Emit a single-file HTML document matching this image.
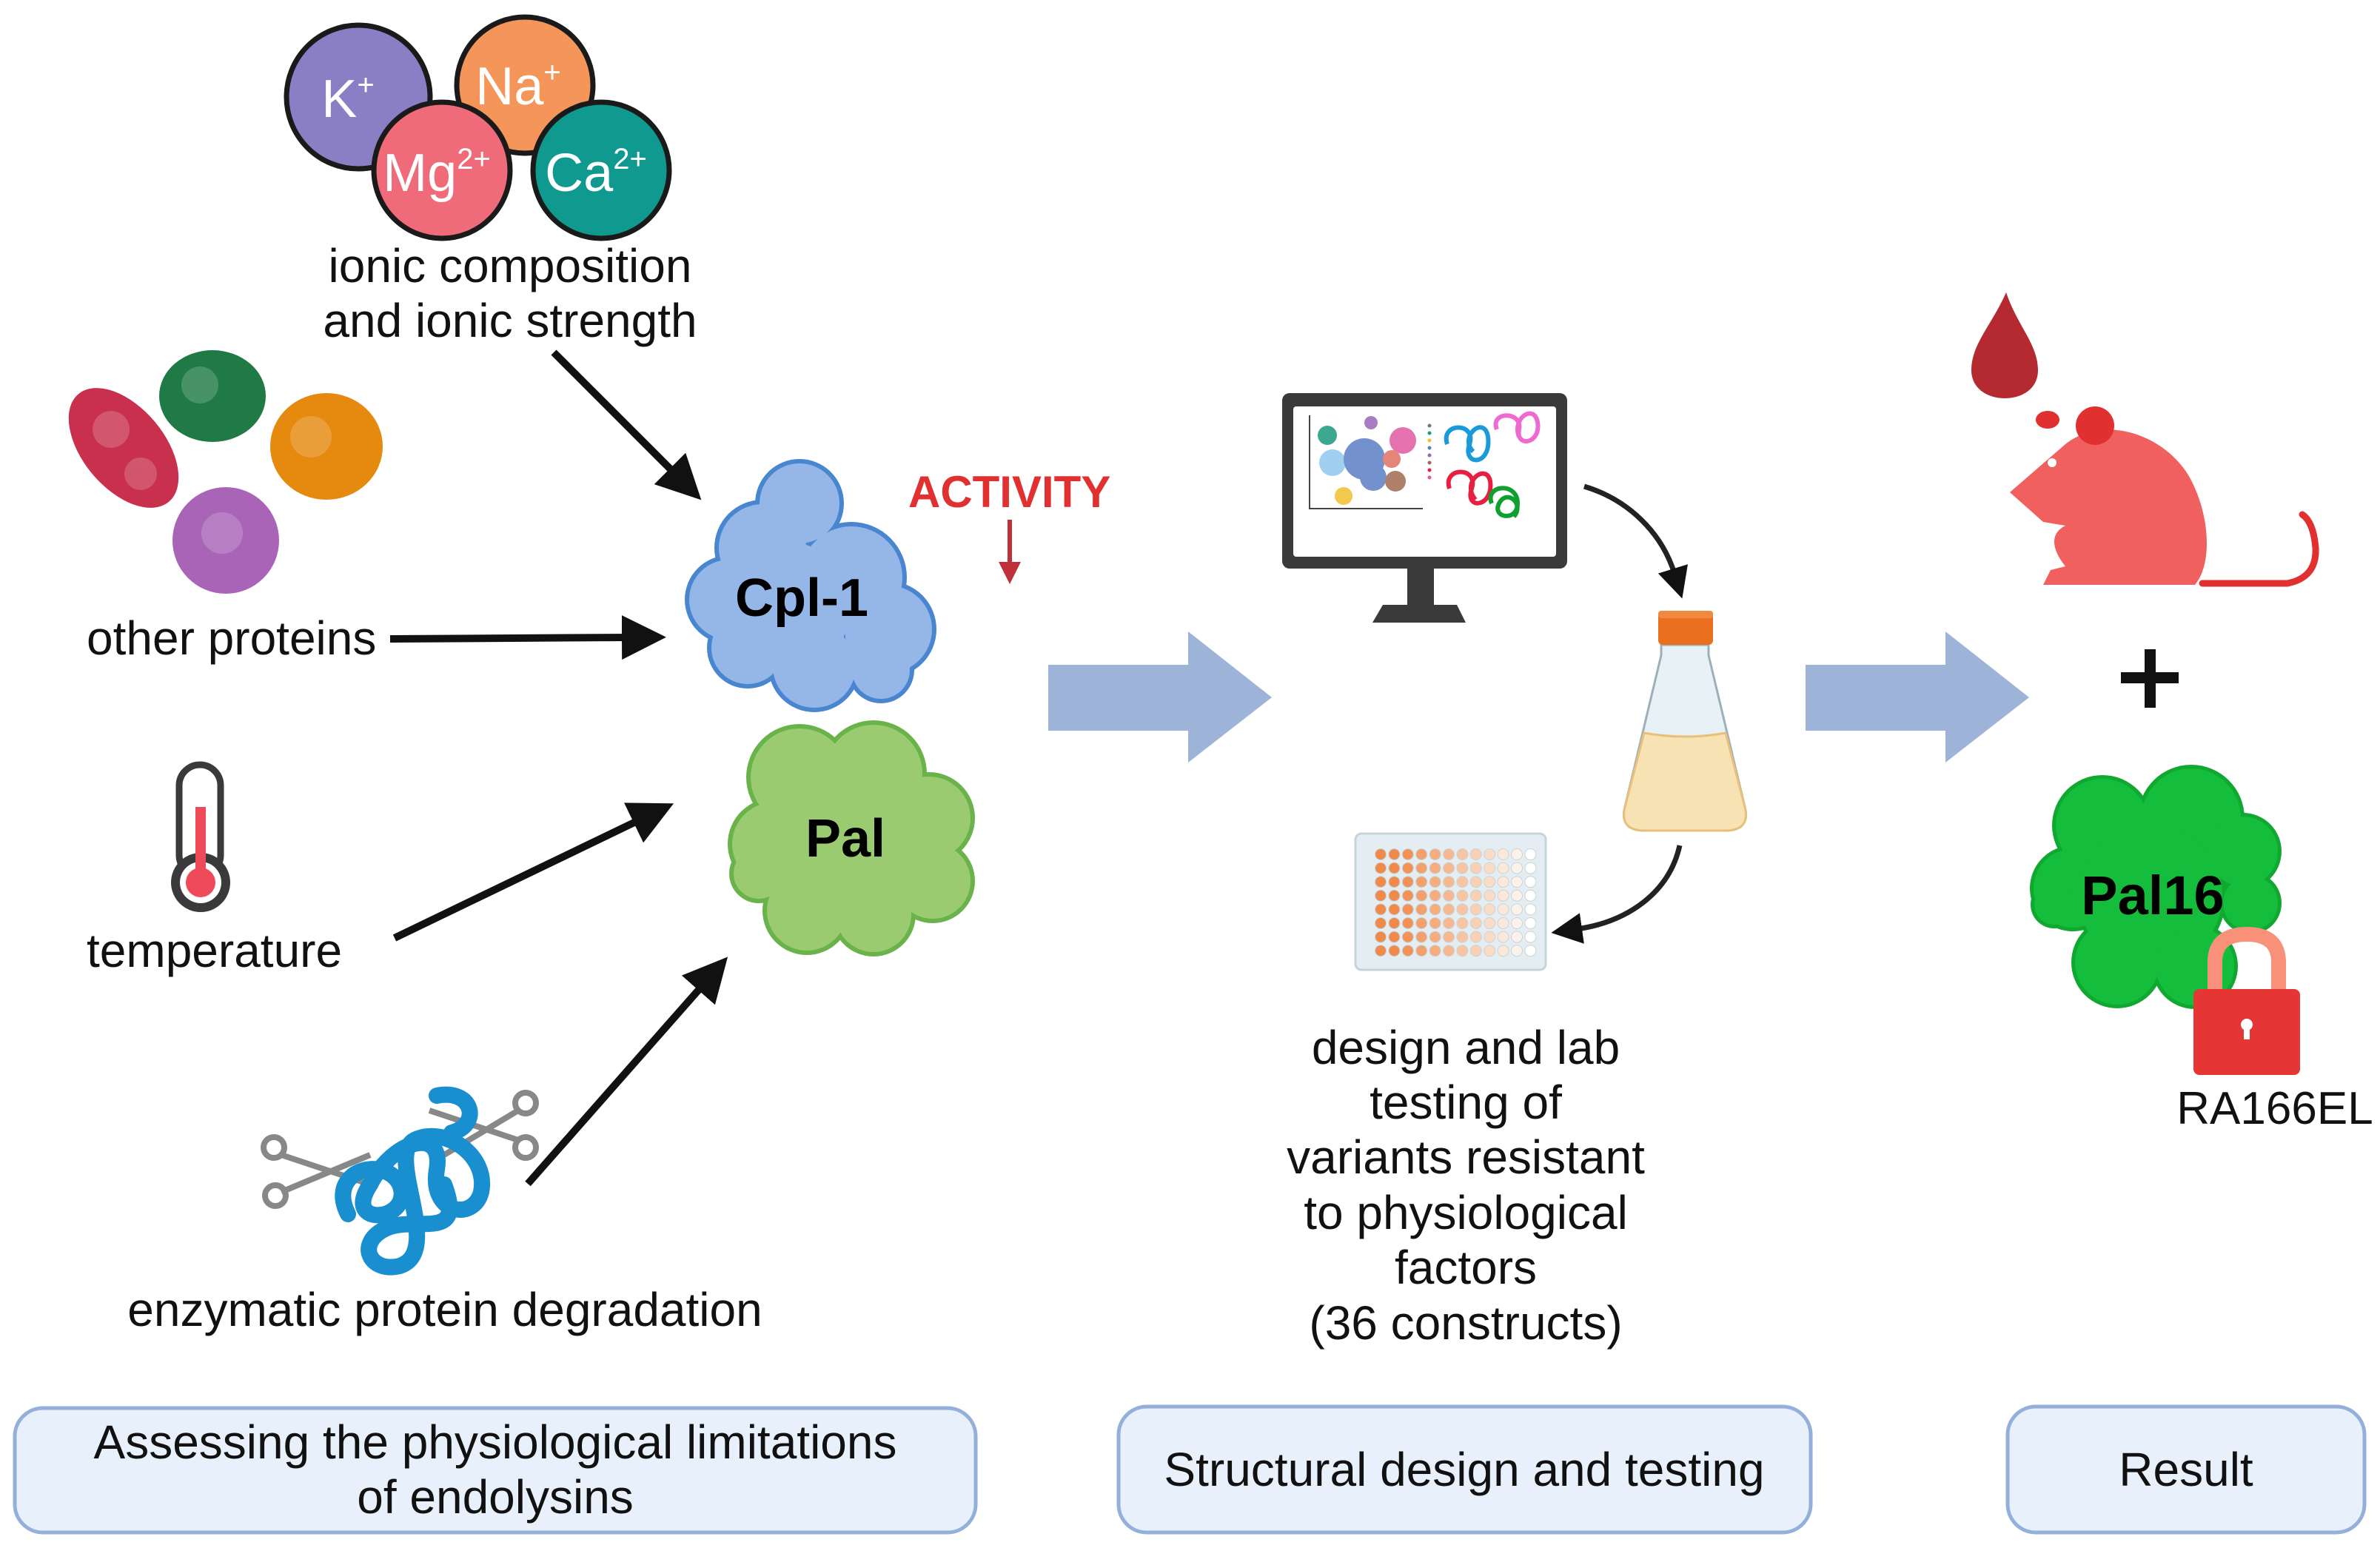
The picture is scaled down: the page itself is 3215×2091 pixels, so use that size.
<!DOCTYPE html>
<html><head><meta charset="utf-8"><style>
html,body{margin:0;padding:0;background:#fff}
svg{display:block}
text{font-family:"Liberation Sans",Arial,sans-serif}
</style></head><body>
<svg width="3215" height="2091" viewBox="0 0 3215 2091" xmlns="http://www.w3.org/2000/svg">
<defs>
<marker id="ah" markerWidth="6" markerHeight="6" refX="1" refY="3" orient="auto" markerUnits="strokeWidth">
<path d="M0,0 L6,3 L0,6 Z" fill="#111"/></marker>
<marker id="ahr" markerWidth="5" markerHeight="5" refX="1" refY="2.5" orient="auto" markerUnits="strokeWidth">
<path d="M0,0 L5,2.5 L0,5 Z" fill="#c0303a"/></marker>
</defs>
<rect width="3215" height="2091" fill="#fff"/>

<!-- ions -->
<g stroke="#1a1a1a" stroke-width="7">
<circle cx="484" cy="131" r="97" fill="#8a7fc4"/>
<circle cx="709" cy="115" r="92" fill="#f4955a"/>
<circle cx="597" cy="230" r="92" fill="#f06b7a"/>
<circle cx="812" cy="230" r="92" fill="#10998f"/>
</g>
<g fill="#fff" font-size="72" text-anchor="middle">
<text x="470" y="158">K<tspan font-size="40" dy="-30">+</tspan></text>
<text x="700" y="141">Na<tspan font-size="40" dy="-30">+</tspan></text>
<text x="590" y="258">Mg<tspan font-size="40" dy="-30">2+</tspan></text>
<text x="805" y="258">Ca<tspan font-size="40" dy="-30">2+</tspan></text>
</g>
<g font-size="64" fill="#111" text-anchor="middle">
<text x="689" y="381">ionic composition</text>
<text x="689" y="455">and ionic strength</text>
<text x="601" y="1791">enzymatic protein degradation</text>
</g>
<text x="117" y="884" font-size="64" fill="#111">other proteins</text>
<text x="117" y="1306" font-size="64" fill="#111">temperature</text>

<!-- black arrows -->
<g stroke="#111" stroke-width="10" fill="none" marker-end="url(#ah)">
<line x1="748" y1="476" x2="912" y2="640"/>
<line x1="527" y1="863" x2="850" y2="861"/>
<line x1="533" y1="1267" x2="865" y2="1107"/>
<line x1="713" y1="1599" x2="950" y2="1330"/>
</g>

<!-- left proteins -->
<g>
<ellipse cx="167" cy="605" rx="55" ry="95" transform="rotate(-40 167 605)" fill="#c8304e"/>
<ellipse cx="287" cy="535" rx="72" ry="62" fill="#1f7a45"/>
<ellipse cx="441" cy="603" rx="76" ry="72" fill="#e6890f"/>
<ellipse cx="305" cy="730" rx="72" ry="72" fill="#a964b8"/>
<g fill="#fff" opacity="0.18">
<circle cx="150" cy="580" r="25"/><circle cx="190" cy="640" r="22"/><circle cx="270" cy="520" r="25"/><circle cx="420" cy="590" r="28"/><circle cx="300" cy="720" r="28"/>
</g>
</g>

<!-- thermometer -->
<rect x="242" y="1033" width="56" height="150" rx="28" fill="#fff" stroke="#3a3a3a" stroke-width="9"/>
<circle cx="271" cy="1192" r="40" fill="#3a3a3a"/>
<circle cx="271" cy="1192" r="28" fill="#fff"/>
<circle cx="271" cy="1192" r="20" fill="#ef4a5a"/>
<rect x="264" y="1090" width="14" height="100" fill="#ef4a5a"/>

<!-- scissors & coil -->
<g stroke="#888" stroke-width="8" fill="none">
<line x1="380" y1="1610" x2="500" y2="1560"/><line x1="380" y1="1560" x2="500" y2="1600"/>
<circle cx="372" cy="1615" r="14"/><circle cx="370" cy="1550" r="14"/>
<line x1="580" y1="1500" x2="700" y2="1540"/><line x1="600" y1="1560" x2="700" y2="1500"/>
<circle cx="710" cy="1490" r="14"/><circle cx="710" cy="1550" r="14"/>
</g>
<path d="M470,1640 C440,1580 520,1560 540,1600 C560,1650 460,1660 500,1600 C530,1540 600,1520 590,1580 C580,1640 640,1650 650,1610 C660,1560 600,1520 560,1540 C520,1560 600,1690 540,1710 C500,1720 480,1680 520,1660 C560,1640 630,1680 600,1600 M590,1480 C640,1470 650,1520 610,1530" stroke="#1a8fd0" stroke-width="22" fill="none" stroke-linecap="round"/>

<!-- Cpl-1 -->
<g fill="#4a86d0">
<circle cx="1080" cy="680" r="60"/><circle cx="1030" cy="740" r="65"/><circle cx="985" cy="810" r="60"/><circle cx="1060" cy="820" r="95"/><circle cx="1150" cy="780" r="75"/><circle cx="1200" cy="850" r="65"/><circle cx="1100" cy="900" r="62"/><circle cx="1010" cy="875" r="55"/><circle cx="1190" cy="905" r="45"/>
</g>
<g fill="#94b7e8">
<circle cx="1080" cy="680" r="54"/><circle cx="1030" cy="740" r="59"/><circle cx="985" cy="810" r="54"/><circle cx="1060" cy="820" r="89"/><circle cx="1150" cy="780" r="69"/><circle cx="1200" cy="850" r="59"/><circle cx="1100" cy="900" r="56"/><circle cx="1010" cy="875" r="49"/><circle cx="1190" cy="905" r="39"/>
</g>
<text x="1083" y="832" font-size="72" font-weight="bold" text-anchor="middle" fill="#000">Cpl-1</text>

<!-- Pal -->
<g fill="#6ab24a">
<circle cx="1080" cy="1050" r="72"/><circle cx="1180" cy="1045" r="72"/><circle cx="1255" cy="1105" r="62"/><circle cx="1045" cy="1140" r="62"/><circle cx="1150" cy="1150" r="102"/><circle cx="1260" cy="1190" r="57"/><circle cx="1180" cy="1235" r="57"/><circle cx="1090" cy="1230" r="60"/><circle cx="1025" cy="1180" r="40"/>
</g>
<g fill="#9acb70">
<circle cx="1080" cy="1050" r="66"/><circle cx="1180" cy="1045" r="66"/><circle cx="1255" cy="1105" r="56"/><circle cx="1045" cy="1140" r="56"/><circle cx="1150" cy="1150" r="96"/><circle cx="1260" cy="1190" r="51"/><circle cx="1180" cy="1235" r="51"/><circle cx="1090" cy="1230" r="54"/><circle cx="1025" cy="1180" r="34"/>
</g>
<text x="1142" y="1157" font-size="72" font-weight="bold" text-anchor="middle" fill="#000">Pal</text>

<!-- activity -->
<text x="1227" y="685" font-size="60" font-weight="bold" fill="#e03030">ACTIVITY</text>
<line x1="1364" y1="702" x2="1364" y2="765" stroke="#c0303a" stroke-width="6" marker-end="url(#ahr)"/>

<!-- big arrows -->
<g fill="#9db3d8">
<rect x="1416" y="898" width="190" height="89"/><polygon points="1605,853 1718,942 1605,1030"/>
<rect x="2439" y="898" width="190" height="89"/><polygon points="2628,853 2741,942 2628,1030"/>
</g>

<!-- monitor -->
<rect x="1732" y="531" width="385" height="237" rx="10" fill="#3a3a3a"/>
<rect x="1747" y="549" width="355" height="203" rx="4" fill="#fff"/>
<rect x="1901" y="766" width="36" height="52" fill="#3a3a3a"/>
<path d="M1868,817 L1968,817 L1980,841 L1854,841 Z" fill="#3a3a3a"/>
<polyline points="1769,561 1769,687 1922,687" fill="none" stroke="#444" stroke-width="2"/>
<g opacity="0.85">
<circle cx="1793" cy="588" r="13" fill="#1b9a7c"/><circle cx="1800" cy="625" r="18" fill="#8fc8ee"/>
<circle cx="1843" cy="620" r="28" fill="#5b7ec4"/><circle cx="1855" cy="645" r="18" fill="#5b7ec4"/>
<circle cx="1852" cy="571" r="9" fill="#9a67b8"/><circle cx="1895" cy="595" r="18" fill="#e05aa0"/>
<circle cx="1880" cy="620" r="12" fill="#e07060"/><circle cx="1885" cy="650" r="14" fill="#a06a50"/>
<circle cx="1815" cy="670" r="12" fill="#f0c030"/>
</g>
<g fill="none" stroke-width="6">
<path d="M1955,600 c-10,-30 40,-30 30,0 c-10,30 30,30 25,-10 c-5,-30 -40,0 -20,20" stroke="#1a9ad8"/>
<path d="M2022,580 c-10,-25 35,-25 30,0 c-5,25 30,20 25,-10 c-5,-25 -35,-5 -25,20" stroke="#ee6ad0"/>
<path d="M1958,660 c-10,-30 40,-30 30,0 c-10,30 30,25 25,-10 c-5,-25 -40,0 -20,25" stroke="#e52040"/>
<path d="M2015,680 c-10,-25 35,-30 35,0 c0,25 -35,20 -25,0 c10,-20 35,0 20,18" stroke="#10a030"/>
</g>
<g fill="#777"><circle cx="1931" cy="575" r="2.5"/><circle cx="1931" cy="585" r="2.5" fill="#1b9a7c"/><circle cx="1931" cy="595" r="2.5" fill="#f0c030"/><circle cx="1931" cy="605" r="2.5" fill="#5b7ec4"/><circle cx="1931" cy="615" r="2.5" fill="#9a67b8"/><circle cx="1931" cy="625" r="2.5" fill="#a06a50"/><circle cx="1931" cy="635" r="2.5" fill="#e52040"/><circle cx="1931" cy="645" r="2.5" fill="#e05aa0"/></g>

<!-- curved arrows -->
<path d="M2140,657 C2200,675 2245,720 2262,775" fill="none" stroke="#222" stroke-width="7" marker-end="url(#ah)"/>
<path d="M2269,1142 C2255,1205 2200,1245 2130,1255" fill="none" stroke="#222" stroke-width="7" marker-end="url(#ah)"/>

<!-- flask -->
<path d="M2244,871 L2308,871 L2308,885 L2357,1090 Q2365,1122 2330,1122 L2222,1122 Q2187,1122 2195,1090 L2244,885 Z" fill="#e8f1f5" stroke="#9bb0bb" stroke-width="3"/>
<path d="M2221,990 Q2276,1000 2331,990 L2357,1090 Q2365,1122 2330,1122 L2222,1122 Q2187,1122 2195,1090 Z" fill="#f7e2b3" stroke="#e8c07a" stroke-width="3"/>
<rect x="2240" y="825" width="74" height="46" rx="6" fill="#ea7020"/>
<rect x="2240" y="825" width="74" height="10" rx="4" fill="#f08a40"/>

<!-- plate -->
<rect x="1831" y="1126" width="257" height="184" rx="8" fill="#e4eef2" stroke="#c4d4da" stroke-width="3"/>
<g id="wellgrid"></g>

<!-- design text -->
<g font-size="64" fill="#111" text-anchor="middle">
<text x="1980" y="1437">design and lab</text>
<text x="1980" y="1511">testing of</text>
<text x="1980" y="1585">variants resistant</text>
<text x="1980" y="1660">to physiological</text>
<text x="1980" y="1734">factors</text>
<text x="1980" y="1809">(36 constructs)</text>
</g>

<!-- blood drop -->
<path d="M2710,395 C2690,440 2663,465 2663,500 C2663,525 2685,538 2708,538 C2732,538 2753,525 2753,500 C2753,465 2725,440 2710,395 Z" fill="#b52a30"/>

<!-- mouse -->
<path d="M2715,665 L2790,600 C2840,560 2920,585 2955,640 C2985,690 2990,760 2965,790 L2760,790 L2770,770 L2790,765 C2770,740 2770,720 2790,710 L2760,705 Z" fill="#f0605e"/>
<circle cx="2830" cy="575" r="26" fill="#e03030"/>
<ellipse cx="2766" cy="567" rx="16" ry="12" fill="#e03030"/>
<circle cx="2772" cy="625" r="6" fill="#fff"/>
<path d="M2975,788 L3090,788 Q3130,780 3128,740 Q3125,705 3110,695" fill="none" stroke="#e03030" stroke-width="9" stroke-linecap="round"/>

<!-- plus -->
<rect x="2865" y="908" width="78" height="15" fill="#111"/>
<rect x="2897" y="877" width="15" height="79" fill="#111"/>

<!-- Pal16 -->
<g fill="#10a830">
<circle cx="2840" cy="1115" r="68"/><circle cx="2960" cy="1105" r="72"/><circle cx="3030" cy="1150" r="52"/><circle cx="2800" cy="1200" r="58"/><circle cx="2905" cy="1210" r="102"/><circle cx="3040" cy="1220" r="42"/><circle cx="2860" cy="1300" r="62"/><circle cx="2965" cy="1305" r="58"/><circle cx="2775" cy="1222" r="32"/>
</g>
<g fill="#14bd3c">
<circle cx="2840" cy="1115" r="63"/><circle cx="2960" cy="1105" r="67"/><circle cx="3030" cy="1150" r="47"/><circle cx="2800" cy="1200" r="53"/><circle cx="2905" cy="1210" r="97"/><circle cx="3040" cy="1220" r="37"/><circle cx="2860" cy="1300" r="57"/><circle cx="2965" cy="1305" r="53"/><circle cx="2775" cy="1222" r="27"/>
</g>
<text x="2908" y="1235" font-size="74" font-weight="bold" text-anchor="middle" fill="#000">Pal16</text>

<!-- lock -->
<path d="M2992,1340 L2992,1300 Q2992,1262 3035,1262 Q3078,1262 3078,1300 L3078,1340" fill="none" stroke="#f8907a" stroke-width="20"/>
<rect x="2963" y="1336" width="144" height="116" rx="8" fill="#e53535"/>
<circle cx="3035" cy="1384" r="8" fill="#fff"/><rect x="3031" y="1384" width="8" height="20" fill="#fff"/>
<text x="3073" y="1518" font-size="62" text-anchor="middle" fill="#111">RA166EL</text>

<!-- bottom boxes -->
<g fill="#e8f1fb" stroke="#94b0da" stroke-width="5">
<rect x="20" y="1902" width="1298" height="168" rx="38"/>
<rect x="1511" y="1900" width="935" height="170" rx="38"/>
<rect x="2712" y="1900" width="482" height="170" rx="38"/>
</g>
<g font-size="64" fill="#111" text-anchor="middle">
<text x="669" y="1970">Assessing the physiological limitations</text>
<text x="669" y="2044">of endolysins</text>
<text x="1978" y="2007">Structural design and testing</text>
<text x="2953" y="2007">Result</text>
</g>
</svg>
<script>
(function(){
var ns="http://www.w3.org/2000/svg",g=document.getElementById("wellgrid");
var cols=["#f08a4a","#f08a4a","#f29258","#f4a06c","#f5ac7e","#f7b890","#f8c4a2","#f9d0b4","#fadcc6","#fce8d8","#fdf2ea","#fff"];
for(var r=0;r<8;r++)for(var c=0;c<12;c++){var e=document.createElementNS(ns,"circle");e.setAttribute("cx",1865+c*18.4);e.setAttribute("cy",1154+r*18.6);e.setAttribute("r",7.5);e.setAttribute("fill",cols[c]);e.setAttribute("stroke","#c8d4d8");e.setAttribute("stroke-width","1");g.appendChild(e);}
})();
</script>
</body></html>
